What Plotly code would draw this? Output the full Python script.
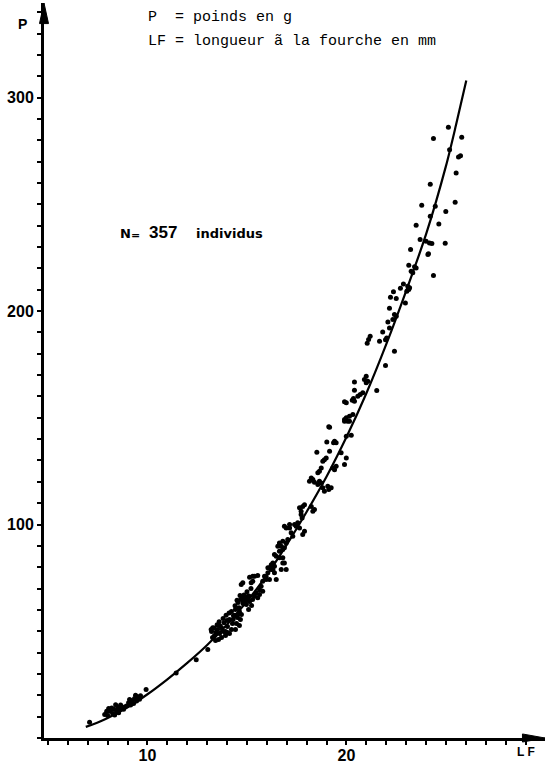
import plotly.graph_objects as go

# ---- data (LF on the axis scale, P in g) ----
curve_lf = [6.9, 7.5, 8, 9, 10, 11, 12, 13, 14, 15, 16, 17, 18, 19, 20, 21, 22, 23, 24, 25, 25.5, 26.02]
curve_p = [5.2, 7.3, 9.4, 14.4, 20.5, 27.5, 35.2, 43.6, 53.2, 64.0, 76.4, 90.6, 106.0, 122.5, 141.0,
           161.5, 184.5, 209.5, 236.0, 268.0, 287.0, 308.0]

pts_upper = [(25.12,286.1),(24.37,280.8),(25.79,281.4),(25.18,275.6),(25.63,272.2),(25.73,272.7),(25.51,264.7),
 (24.21,259.4),(25.46,251.0),(23.78,249.6),(24.99,246.6),(24.46,249.1),(24.21,244.4),(24.64,240.8),(23.50,240.2),
 (23.70,233.5),(24.00,232.7),(24.17,231.9),(24.29,231.6),(24.96,231.7),(24.12,226.8),(23.22,228.8),(23.13,221.4),
 (23.42,220.7),(23.50,220.2),(23.25,218.6),(23.33,217.9),(24.37,216.6),(22.86,212.7),(22.71,210.7),(23.08,211.6),
 (23.13,210.1),(23.03,209.3),(23.17,210.9),(22.36,209.0),(22.21,206.5),(22.50,205.9),(22.96,203.8),(22.16,201.3),
 (22.41,198.4),(22.50,197.6),(24.09,226.5),(22.33,196.0),(22.08,194.9),(21.82,190.2),(22.16,192.1),(21.19,188.2),
 (21.11,186.7),(21.04,184.9),(21.66,185.8),(22.02,187.4),(21.96,186.6),(22.41,181.2),(21.96,174.5),(21.52,162.8),
 (20.99,169.5),(20.90,167.9),(21.07,167.1),(20.99,166.4),(20.40,166.8),(20.82,161.7),(20.69,160.9),(20.57,160.1),
 (20.40,162.9),(20.35,159.0),(20.29,158.2),(19.90,157.5),(20.32,151.5),(20.15,150.7),(19.99,150.0),(19.90,148.4),
 (20.15,148.4),(19.15,145.6),(20.24,141.8),(19.99,141.3)]

pts_middle = [(19.99,157.0),(20.40,157.7),(19.90,149.2),(20.06,148.4),(19.11,145.8),(19.40,139.0),(19.48,138.3),
 (19.35,138.3),(19.01,138.6),(18.51,133.8),(19.15,134.3),(19.73,133.6),(18.89,130.4),(18.98,131.2),(18.81,129.6),
 (19.99,131.2),(19.48,127.3),(19.40,125.7),(19.31,126.5),(19.90,128.1),(18.73,126.5),(18.64,124.9),(18.56,124.2),
 (18.23,121.8),(18.31,121.1),(18.14,120.3),(18.39,119.8),(18.64,120.3),(18.56,118.7),(18.73,119.5),(19.06,117.9),
 (19.23,117.2),(19.11,116.4),(18.81,117.2),(18.89,115.6),(17.89,109.3),(17.80,108.5),(17.64,107.8),(18.23,108.5),
 (18.39,107.0),(18.31,106.2),(17.72,104.7),(17.77,103.1),(17.55,100.8),(17.39,100.0),(17.47,99.2),(17.64,98.4),
 (16.88,99.2),(16.97,98.4),(17.14,98.4),(17.89,96.9),(17.80,95.3),(17.22,96.1),(17.30,94.5),(16.63,91.4),
 (16.55,89.8),(16.72,89.8),(16.80,88.3),(16.63,87.5),(16.88,89.1),(16.97,91.4),(17.05,93.0),(16.38,85.9),
 (16.47,85.1),(16.63,84.4),(16.30,82.0),(16.22,81.2),(16.38,80.5),(16.13,79.7),(16.30,78.9),(16.80,82.0),
 (16.72,78.9),(16.05,77.4),(15.96,75.8),(15.29,75.8),(15.13,75.3),(16.38,77.4)]

pts_lower = [(17.72,106.2),(17.14,100.0),(16.80,92.2),(16.80,84.4),(16.88,82.0),(16.97,78.9),(16.22,78.9),
 (16.05,79.7),(15.88,75.8),(15.96,74.2),(15.79,73.4),(16.13,74.2),(15.38,75.8),(15.54,76.1),(14.79,72.7),
 (14.71,71.9),(15.29,73.4),(15.21,72.7),(16.47,74.2),(15.71,71.1),(15.63,69.5),(15.79,68.7),(15.46,68.0),
 (15.38,66.4),(15.63,67.2),(15.54,65.7),(14.79,65.7),(15.03,66.3),(15.13,63.9),(15.23,62.1),(14.97,62.5),
 (15.28,64.9),(15.08,60.2),(14.87,65.7),(14.79,64.1),
 (14.22,59.2),(14.42,60.2),(14.62,59.2),(14.72,57.8),(14.32,57.4),(14.52,56.4),(14.67,55.5),(14.12,55.5),
 (14.27,53.6),(14.47,53.6),(14.62,52.7),(14.02,52.2),(14.22,50.8),(14.42,50.8),(13.92,49.9),(14.12,48.9),
 (13.22,49.9),(13.37,48.0),(13.52,50.8),(13.62,48.9),(13.72,47.1),(13.42,45.7),(13.82,49.9),(13.92,48.0),
 (13.57,46.1),(13.27,47.1),(14.02,49.4),(13.72,51.7),(13.20,50.8),(13.28,51.6),(13.03,41.4),
 (14.40,62.0),(14.55,63.5),(14.70,65.0),(14.85,67.0),(15.00,68.5),(14.60,61.0),(14.80,63.0),(14.95,64.5),
 (15.10,66.5),(15.20,70.0),(14.50,64.5),(14.65,66.8),(13.50,53.0),(13.60,54.5),(13.80,56.0),(13.95,57.5),
 (14.10,58.5),(13.65,52.5),(13.85,54.0),(14.00,55.0),(13.35,51.5),(13.45,49.5),(14.30,55.5),(14.40,57.5),
 (14.55,58.0)]

pts_small = [(9.93,22.7),(7.09,7.4),(11.44,30.5),(12.45,36.7),
 (7.85,11.0),(8.00,10.5),(8.10,12.5),(8.25,11.5),(8.30,13.5),(8.45,12.5),(8.50,14.5),(8.60,13.2),(8.65,15.5),
 (8.20,14.0),(7.95,12.5),(8.40,15.6),(8.55,11.8),(8.05,13.8),(8.35,10.8),(8.70,14.2),
 (8.95,15.0),(9.05,16.5),(9.15,15.5),(9.20,17.5),(9.30,16.2),(9.35,18.5),(9.45,17.3),(9.50,19.3),(9.60,18.2),
 (9.10,18.0),(9.40,20.0),(9.65,19.8),(8.80,13.5),(8.85,14.5)]

y_tick_vals = [100, 200, 300]
y_tick_text = ["100", "200", "300"]
x_tick_vals = [10, 20]
x_tick_text = ["10", "20"]

all_pts = pts_upper + pts_middle + pts_lower + pts_small
scatter_lf = [p[0] for p in all_pts]
scatter_p = [p[1] for p in all_pts]

fig = go.Figure()
fig.add_trace(go.Scatter(x=scatter_lf, y=scatter_p, mode="markers",
                         marker=dict(size=5, color="black", line=dict(width=0)), hoverinfo="skip"))
fig.add_trace(go.Scatter(x=curve_lf, y=curve_p, mode="lines",
                         line=dict(color="black", width=2.2, shape="spline", smoothing=0.8),
                         hoverinfo="skip"))

tickfont = dict(family="Liberation Sans", size=16, color="black", weight="bold")
fig.update_layout(
    width=551, height=765,
    margin=dict(l=44, r=6, t=3, b=27),
    paper_bgcolor="white", plot_bgcolor="white",
    showlegend=False,
    xaxis=dict(range=[4.8, 29.975], showgrid=False, zeroline=False, automargin=False,
               showline=True, linecolor="black", linewidth=3,
               tickvals=x_tick_vals, ticktext=x_tick_text,
               ticks="outside", ticklen=4, tickwidth=1.5, tickcolor="black",
               ticklabelstandoff=-3,
               minor=dict(dtick=1, tick0=0, ticks="outside", ticklen=4, tickwidth=1.5, tickcolor="black"),
               tickfont=tickfont),
    yaxis=dict(range=[0, 344.3], showgrid=False, zeroline=False, automargin=False,
               showline=True, linecolor="black", linewidth=3,
               tickvals=y_tick_vals, ticktext=y_tick_text,
               ticks="outside", ticklen=4, tickwidth=1.5, tickcolor="black",
               minor=dict(dtick=10, tick0=0, ticks="outside", ticklen=4, tickwidth=1.5, tickcolor="black"),
               tickfont=tickfont),
)

# arrowheads on the axes
fig.add_shape(type="path", xref="paper", yref="paper",
              path="M -0.009,0.972 L 0,1.0 L 0.009,0.972 Z",
              fillcolor="black", line=dict(color="black", width=1))
fig.add_shape(type="path", xref="paper", yref="paper",
              path="M 0.955,-0.0055 L 1.0,0 L 0.955,0.0055 Z",
              fillcolor="black", line=dict(color="black", width=1))

mono = dict(family="Liberation Mono", size=15, color="black")
fig.add_annotation(xref="paper", yref="paper", x=0.2036, y=0.9796, xanchor="left", yanchor="middle",
                   text="P  = poinds en g", showarrow=False, font=mono)
fig.add_annotation(xref="paper", yref="paper", x=0.2036, y=0.947, xanchor="left", yanchor="middle",
                   text="LF = longueur ã la fourche en mm", showarrow=False, font=mono)

fig.add_annotation(xref="paper", yref="paper", x=-0.0439, y=0.9714, xanchor="center", yanchor="middle",
                   text="P", showarrow=False,
                   font=dict(family="Liberation Sans", size=14, color="black", weight="bold"))
fig.add_annotation(xref="paper", yref="paper", x=0.962, y=-0.019, xanchor="center", yanchor="middle",
                   text="L F", showarrow=False,
                   font=dict(family="Liberation Sans", size=12, color="black", weight="bold"))

fig.add_annotation(xref="paper", yref="paper", x=0.1617, y=0.687, xanchor="center", yanchor="middle",
                   text="N", showarrow=False,
                   font=dict(family="DejaVu Sans", size=13, color="black", weight="bold"))
fig.add_annotation(xref="paper", yref="paper", x=0.183, y=0.683, xanchor="center", yanchor="middle",
                   text="=", showarrow=False,
                   font=dict(family="DejaVu Sans", size=11, color="black", weight="bold"))
fig.add_annotation(xref="paper", yref="paper", x=0.2385, y=0.688, xanchor="center", yanchor="middle",
                   text="357", showarrow=False,
                   font=dict(family="Liberation Sans", size=17, color="black", weight="bold"))
fig.add_annotation(xref="paper", yref="paper", x=0.371, y=0.687, xanchor="center", yanchor="middle",
                   text="individus", showarrow=False,
                   font=dict(family="DejaVu Sans", size=13, color="black", weight="bold"))

fig.write_html("out.html", config={"displayModeBar": False},
               post_script="document.body.style.margin='0';")
